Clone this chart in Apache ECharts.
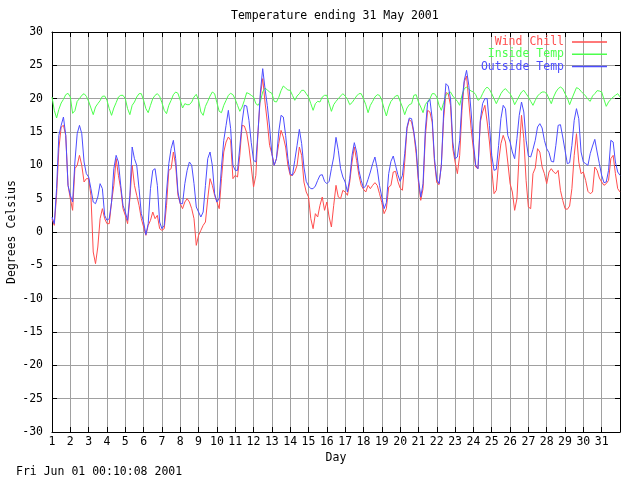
<!DOCTYPE html>
<html>
<head>
<meta charset="utf-8">
<script src="https://cdn.jsdelivr.net/npm/echarts@6/dist/echarts.min.js"></script>
<style>
html,body{margin:0;padding:0;background:#fff;}
#c{width:640px;height:480px;}
</style>
</head>
<body>
<div id="c"></div>
<script>
// Sampling: one reading every 3 hours, starting day 1 00:00, ending day 32 00:00
var startDay = 1;
var hoursPerSample = 3;

var windChill = [
2,1,5.5,12.5,15.75,16,14.5,7,
5,3.25,9.5,10,11.5,10,7.5,8,
8,5.5,-3,-4.75,-2.25,2,3.5,2,
1.25,1.25,4.5,7,11,8.5,6.5,3.5,
2.5,1.25,5,10,7,5.5,4,2,
0.75,-0.5,1,1.75,3,2,2.5,0.5,
0.25,0.5,4,9.25,9.5,12,10,5.5,
4.25,3.5,4.5,5,4.5,3.5,2,-2,
-0.5,0.25,1,1.5,5,8,7,5.5,
4.5,3.5,8,12,13.5,14.25,13.75,8,
8.5,8.25,11.5,16,15.9,14.9,12.75,9.75,
6.75,8.5,15.25,20.5,23,19.5,16.5,13,
11.75,10,11,13.25,15.25,14.25,12.75,10,
8.5,8.5,9,10,12.75,11.5,7.5,6,
5.25,2,0.5,2.75,2.25,4,5.25,3.25,
4.5,2.25,0.75,4,7,5.25,5,6.25,
6,5.5,7.5,10.5,12.75,10.75,8.5,7,
6.4,6,7,6.5,7,7.4,7,5.75,
4.4,2.75,3.5,6.75,7,9,9.1,7.6,
6.6,6.25,10.5,15.5,16.9,16.5,14.75,11.75,
7.5,4.75,6.5,14.25,18.25,18,16.5,10.5,
7.4,7.1,10,17,20.9,20.75,19,12.5,
10.5,8.75,11.5,18.25,22.5,23.4,19.5,15.5,
12.4,9.75,9.5,16.5,18,19,16.5,13.5,
9.5,5.75,6.25,10.5,13.25,14.5,13.5,10.5,
7.25,6,3.25,5,12,17.5,14,7.75,
3.75,3.5,8.75,9.6,12.5,12,9.75,8.75,
7.25,9,9.5,9,8.75,9.25,6.25,4.75,
3.5,3.4,3.9,6.5,11.5,14.75,10.5,8.75,
9,7.75,6.1,5.75,6,9.75,9.25,8.1,
7.5,7,7.25,7.75,11,11.5,8.75,6.5,
6
];

var insideTemp = [
20.25,18.25,17.1,18.4,19.35,19.9,20.6,20.8,
20.25,17.8,18.2,19.6,20,20.5,20.75,20.35,
19.6,18.6,17.6,18.75,19.25,19.7,20.35,20.4,
19.75,18.5,17.5,18.6,19.4,20.25,20.5,20.5,
20,18.5,17.6,19,19.5,20.25,20.75,20.75,
19.75,18.5,17.9,19,20,20.5,20.75,20.35,
19.4,18.25,17.75,19,19.75,20.6,21,20.8,
19.75,18.6,19.25,19.1,19.1,19.5,20.25,20.65,
19.75,18,17.5,18.85,19.6,20.4,21,20.75,
19.4,18.1,17.9,19,19.75,20.5,20.8,20.6,
19.9,19,18.1,18.75,19.75,20.9,20.75,20.5,
20.25,19.25,19,19.6,21,21.6,21.3,21,
20.8,19.6,19.5,20.2,21.2,21.9,21.6,21.3,
21.25,20.5,19.75,20.4,20.75,21.25,21.25,20.75,
20.25,19.25,18.25,19.25,19.6,19.5,20.25,20.5,
20.5,19.25,18.1,19.1,19.6,20,20.4,20.75,
20.4,19.9,19.1,19.4,19.9,20.4,20.75,20.75,
20,19.1,17.9,19,19.6,20.25,20.6,20.5,
19.75,18.5,17.4,18.75,19.6,20,20.4,20.5,
19.6,18.75,17.6,18.6,19.1,19.25,20.5,20.6,
19.5,18.75,17.9,19.1,19.6,20,20.75,20.75,
20.25,19,18.25,19.4,20.5,20.85,21,20.4,
20,19.6,19,20.5,21.5,21.75,21.4,21.15,
21,20.6,19.75,20,20.75,21.4,21.75,21.4,
20.75,20,19.25,20,20.75,21.25,21.5,21.1,
20.75,20.1,19.1,19.75,20.4,21,21.25,20.75,
20.25,19.6,19,19.75,20.4,20.75,21,21,
20.75,20,19.25,20.25,21,21.5,21.75,21.5,
20.75,20.1,19.1,20,20.85,21.65,21.5,21.1,
20.75,20.4,19.9,19.6,20.4,20.75,21.2,21.15,
21,19.9,18.85,19.5,19.9,20.25,20.5,20.75,
20.25
];

var outsideTemp = [
2.25,1.25,6.5,14.5,16,17.25,14.5,7,
5.5,4.5,10.5,14.75,16,14.75,10.5,8.75,
8.25,6.5,4.5,4.25,5.25,7.25,6.5,2.5,
1.75,2,4.5,9.5,11.5,10.5,7,4,
3,1.75,5.5,12.75,11,10,6.5,2.75,
1.5,-0.4,1.25,6.5,9.25,9.5,7,1.5,
0.5,1,6,10.25,12.5,13.75,11,6,
4.25,4.25,7.25,9.25,10.5,10,7.25,3.75,
3,2.25,3,7,11,12,10,5.75,
4.5,5,9.75,13.75,16,18.25,15.5,10,
9.25,9.25,12.75,16.5,19,18.9,16.75,13.4,
10.75,10.5,15.25,21,24.5,21.5,19,15.75,
11.75,10,11,15,17.5,17.25,14.5,11,
8.75,8.5,10.75,13,15.4,13.25,9.75,7.6,
6.9,6.5,6.5,6.9,7.75,8.5,8.6,7.6,
7.25,7.6,9.5,11.25,14.2,12.25,9.5,8.25,
7.5,6,8,11.5,13.4,12,9.25,7.75,
6.6,6.9,7.9,9,10.25,11.25,9.5,7,
5.25,3.5,4.4,8.75,10.6,11.4,10,8.6,
7.6,8.5,11.75,15.75,17.1,17,15,12.5,
8,5.25,7.25,15.25,19.4,19.9,17,11,
7.9,7.25,10,18,22.25,21.9,20,13.5,
11,11.25,13.75,19.5,22.75,24.25,22,18,
13.4,10,9.5,16.75,19.25,20,20,16,
11.5,9.25,9.4,13,17,19,18.5,14.5,
13.5,12,11,14,17.5,19.5,18,13.75,
11.4,11.25,12.4,13.75,15.75,16.25,15.6,13.75,
12.5,11.9,10.6,10.5,13,16,16.1,14.25,
12.25,10.25,10.4,13,16.75,18.5,17,12,
10.5,10.25,10,11.75,12.9,13.9,12,10.25,
8.5,7.4,7.5,9.25,13.75,13.5,10.5,9,
8.5
];

var dayTicks = [1,2,3,4,5,6,7,8,9,10,11,12,13,14,15,16,17,18,19,20,21,22,23,24,25,26,27,28,29,30,31];
var seriesNames = ['Wind Chill','Inside Temp','Outside Temp'];
var seriesColors = ['#ff4d4d','#4dff4d','#4d4dff'];

function toPairs(arr){
  return arr.map(function(v,i){ return [startDay + i*hoursPerSample/24, v]; });
}

var FONT = 'DejaVu Sans Mono';
var chart = echarts.init(document.getElementById('c'), null, {renderer:'canvas'});

var gridColor = '#a0a0a0';
var baseText = {fontFamily: FONT, fontSize: 11.5, color: '#000'};

var legends = seriesNames.map(function(n,i){
  return {
    orient: 'horizontal',
    right: 33,
    top: 36 + i*12.3,
    align: 'right',
    itemWidth: 35,
    itemHeight: 1.5,
    padding: 0,
    selectedMode: false,
    icon: 'rect',
    textStyle: {fontFamily: FONT, fontSize: 11.5, lineHeight: 12, color: seriesColors[i], padding: [0, 3, 0, 0]},
    itemStyle: {color: seriesColors[i]},
    data: [n]
  };
});

var option = {
  animation: false,
  backgroundColor: '#ffffff',
  grid: {left: 52, right: 20, top: 32, bottom: 48, containLabel: false, outerBoundsMode: 'none'},
  graphic: [
    {type:'text', left: 231, top: 10, style: {text: 'Temperature ending 31 May 2001', font: '11.5px "DejaVu Sans Mono"', fill: '#000'}},
    {type:'text', left: 16, top: 466, style: {text: 'Fri Jun 01 00:10:08 2001', font: '11.5px "DejaVu Sans Mono"', fill: '#000'}}
  ],
  legend: legends,
  xAxis: [
    {
      type: 'value', min: 1, max: 32, interval: 1,
      name: 'Day', nameLocation: 'middle', nameGap: 20, nameMoveOverlap: false,
      nameTextStyle: baseText,
      axisLine: {show: true, onZero: false, lineStyle: {color: '#000', width: 1}},
      axisTick: {show: true, inside: true, length: 5, lineStyle: {color: '#000'}},
      axisLabel: {fontFamily: FONT, fontSize: 11.5, color: '#000', margin: 4,
        formatter: function(v){ return dayTicks.indexOf(v) >= 0 ? String(v) : ''; }},
      splitLine: {show: true, lineStyle: {color: gridColor, width: 1}}
    },
    {
      type: 'value', min: 1, max: 32, interval: 1, position: 'top',
      axisLine: {show: true, onZero: false, lineStyle: {color: '#000', width: 1}},
      axisTick: {show: true, inside: true, length: 5, lineStyle: {color: '#000'}},
      axisLabel: {show: false},
      splitLine: {show: false}
    }
  ],
  yAxis: [
    {
      type: 'value', min: -30, max: 30, interval: 5,
      name: 'Degrees Celsius', nameLocation: 'middle', nameGap: 34, nameRotate: 90, nameMoveOverlap: false,
      nameTextStyle: baseText,
      axisLine: {show: true, onZero: false, lineStyle: {color: '#000', width: 1}},
      axisTick: {show: true, inside: true, length: 5, lineStyle: {color: '#000'}},
      axisLabel: {fontFamily: FONT, fontSize: 11.5, color: '#000', margin: 9},
      splitLine: {show: true, lineStyle: {color: gridColor, width: 1}}
    },
    {
      type: 'value', min: -30, max: 30, interval: 5, position: 'right',
      axisLine: {show: true, onZero: false, lineStyle: {color: '#000', width: 1}},
      axisTick: {show: true, inside: true, length: 5, lineStyle: {color: '#000'}},
      axisLabel: {show: false},
      splitLine: {show: false}
    }
  ],
  series: [
    {name: seriesNames[0], type: 'line', data: toPairs(windChill), showSymbol: false, symbol: 'none',
      lineStyle: {color: seriesColors[0], width: 1}, itemStyle: {color: seriesColors[0]}},
    {name: seriesNames[1], type: 'line', data: toPairs(insideTemp), showSymbol: false, symbol: 'none',
      lineStyle: {color: seriesColors[1], width: 1}, itemStyle: {color: seriesColors[1]}},
    {name: seriesNames[2], type: 'line', data: toPairs(outsideTemp), showSymbol: false, symbol: 'none',
      lineStyle: {color: seriesColors[2], width: 1}, itemStyle: {color: seriesColors[2]}}
  ]
};
chart.setOption(option);
</script>
</body>
</html>
